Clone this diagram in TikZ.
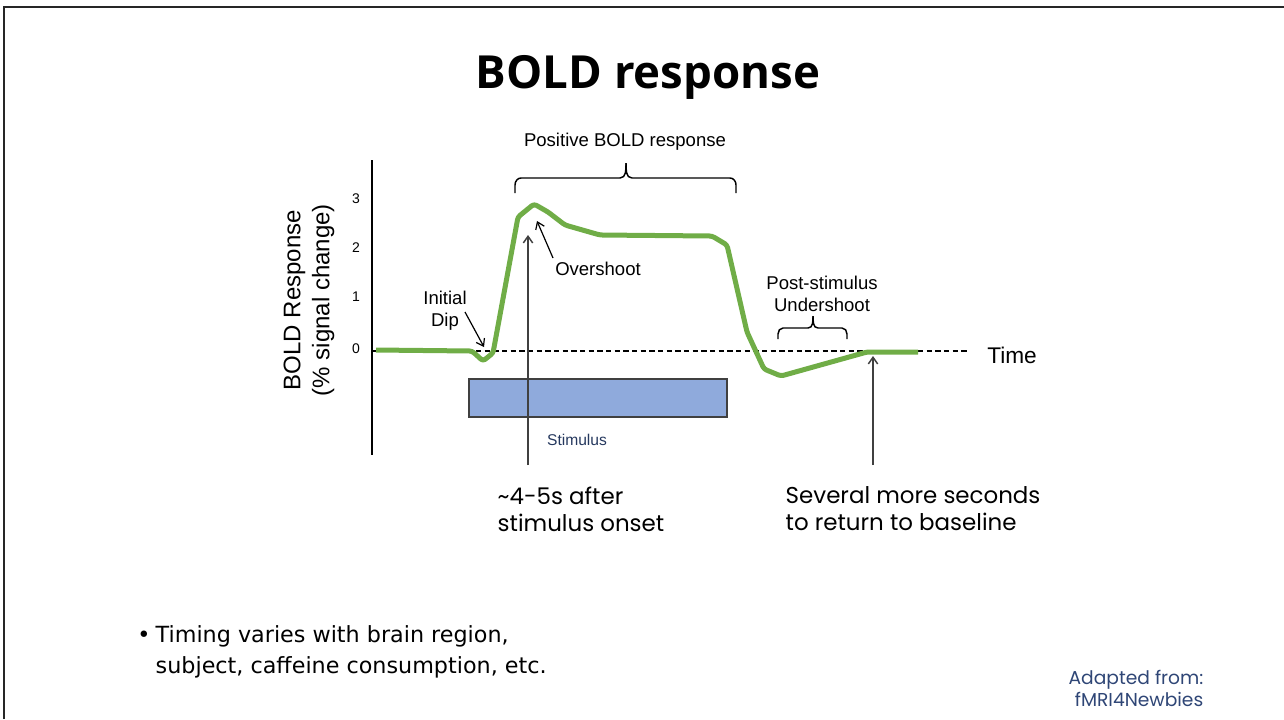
\documentclass[tikz,border=0pt]{standalone}
\usepackage{fontspec}
\setmainfont{Liberation Sans}
\newfontfamily\gothic{Poppins}
\newfontfamily\slidefont{Open Sans}
\newfontfamily\bulletfont{DejaVu Sans}
\usetikzlibrary{arrows.meta}
\definecolor{boldgreen}{HTML}{70AD47}
\definecolor{stimblue}{HTML}{8FAADC}
\definecolor{navyblue}{HTML}{2F4676}
\definecolor{arrowgray}{HTML}{404040}
\def\chartlabel{\node[font=\fontsize{13.9}{16.5}\selectfont,align=center]}
\def\notelabel{\node[font=\gothic\fontsize{17.2}{20.25}\selectfont,align=left,anchor=west]}

\begin{document}
\begin{tikzpicture}[x=0.75pt,y=-0.75pt,>={Straight Barb[length=5pt,width=7pt]}]
\useasboundingbox (0,0) rectangle (1284,719);
% slide frame
\draw[line width=1.8pt,black!85] (4,719) -- (4,7) -- (1284,7);
\node[font=\slidefont\bfseries\fontsize{34.2}{40}\selectfont,anchor=base] (title) at (648,88) {BOLD response};
% axes
\draw[line width=1pt] (372,160) -- (372,455);
\draw[line width=0.9pt,dash pattern=on 4pt off 2.5pt] (372,351) -- (968,351);
\foreach \v/\y in {0/349,1/297,2/248,3/199}
  \node[font=\fontsize{10.5}{12}\selectfont] (tick\v) at (356,\y) {\v};
\node[font=\fontsize{18}{21.75}\selectfont,align=center,rotate=90] (ylabel) at (309,300) {BOLD Response\\(\% signal change)};
\node[font=\fontsize{17}{20}\selectfont,anchor=base] (time) at (1012,363) {Time};
% stimulus block
\draw[fill=stimblue,draw=arrowgray,line width=0.9pt] (469,379) rectangle (727,417);
\node[font=\fontsize{11.7}{14}\selectfont,text=navyblue!80!black] (stim) at (577,440) {Stimulus};
% response curve
\draw[boldgreen,line width=3.75pt,line join=round,rounded corners=2pt]
  (376,350) -- (472,351) -- (483,361) -- (493,353) -- (518,217) -- (534,204)
  -- (548,212) -- (565,225) -- (600,235) -- (712,236) -- (727,245) -- (747,332)
  -- (764,369) -- (781,376) -- (867,352) -- (918,352);
% braces
\chartlabel[anchor=base] (pos) at (625,146) {Positive BOLD response};
\draw[line width=1.1pt] (515,193) -- (515,185) to[out=90,in=180] (521,178) -- (620,178) to[out=0,in=270] (626,163);
\draw[line width=1.1pt] (736,193) -- (736,185) to[out=90,in=0] (730,178) -- (632,178) to[out=180,in=270] (626,163);
\chartlabel (post) at (822,294) {Post-stimulus\\Undershoot};
\draw[line width=1.1pt] (778,339) -- (778,334) to[out=90,in=180] (783,328) -- (808,328) to[out=0,in=270] (813,316);
\draw[line width=1.1pt] (847,339) -- (847,334) to[out=90,in=0] (842,328) -- (818,328) to[out=180,in=270] (813,316);
% labels with arrows
\chartlabel (dip) at (445,311) {Initial\\Dip};
\coordinate (diptail) at (465,312);
\coordinate (diptip) at (484,347);
\draw[->,line width=0.9pt] (diptail) -- (diptip);
\chartlabel[anchor=base] (over) at (598,275) {Overshoot};
\coordinate (overtail) at (553,258);
\coordinate (overtip) at (537,221);
\draw[->,line width=0.9pt] (overtail) -- (overtip);
\coordinate (onsetfoot) at (528,465);
\coordinate (onsettip) at (528,235);
\draw[->,arrowgray,line width=1.1pt] (onsetfoot) -- (onsettip);
\coordinate (returnfoot) at (873,465);
\coordinate (returntip) at (873,356);
\draw[->,arrowgray,line width=1.1pt] (returnfoot) -- (returntip);
\notelabel (onset) at (493,509) {\textasciitilde4-5s after\\stimulus onset};
\notelabel (baseline) at (781,509) {Several more seconds\\to return to baseline};
% bottom notes
\node[font=\bulletfont\fontsize{16.7}{23.25}\selectfont] (bullet) at (144,637) {•};
\node[font=\bulletfont\fontsize{16.7}{23.25}\selectfont,align=left,anchor=west] (timing) at (151,652) {Timing varies with brain region,\\subject, caffeine consumption, etc.};
\node[font=\gothic\fontsize{14}{16.5}\selectfont,align=right,anchor=east,text=navyblue] (source) at (1208,688) {Adapted from:\\fMRI4Newbies};
\end{tikzpicture}
\end{document}
